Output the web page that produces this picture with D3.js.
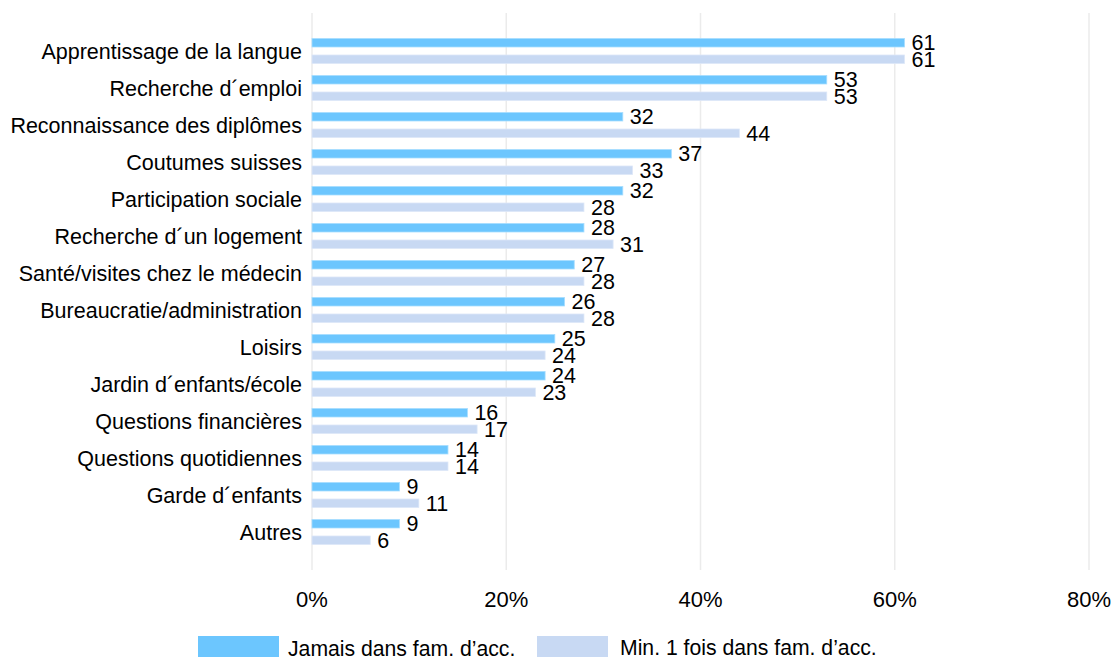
<!DOCTYPE html>
<html>
<head>
<meta charset="utf-8">
<script src="https://cdn.jsdelivr.net/npm/d3@7"></script>
<style>
  html, body { margin: 0; padding: 0; background: #fff; }
  svg { display: block; font-family: "Liberation Sans", Arial, sans-serif; }
</style>
</head>
<body>
<svg id="chart" width="1117" height="657"></svg>
<script>
// Categories, top to bottom
const categories = [
  "Apprentissage de la langue",
  "Recherche d\u00B4emploi",
  "Reconnaissance des diplômes",
  "Coutumes suisses",
  "Participation sociale",
  "Recherche d\u00B4un logement",
  "Santé/visites chez le médecin",
  "Bureaucratie/administration",
  "Loisirs",
  "Jardin d\u00B4enfants/école",
  "Questions financières",
  "Questions quotidiennes",
  "Garde d\u00B4enfants",
  "Autres"
];

// Share (%) by group
const jamais = [61, 53, 32, 37, 32, 28, 27, 26, 25, 24, 16, 14, 9, 9];
const minUneFois = [61, 53, 44, 33, 28, 31, 28, 28, 24, 23, 17, 14, 11, 6];

const seriesNames = ["Jamais dans fam. d’acc.", "Min. 1 fois dans fam. d’acc."];
const seriesColors = ["#6CC6FE", "#C8D9F3"];
const seriesStroke = ["#A6DDFF", "#DCE7F8"];

const xTicks = [0, 20, 40, 60, 80];

const svg = d3.select("#chart");

const x = d3.scaleLinear().domain([0, 80]).range([312, 1089]);

const y = d3.scaleBand()
  .domain(categories)
  .range([38.5, 38.5 + categories.length * 37])
  .paddingInner(0)
  .paddingOuter(0);

const ySub = d3.scaleBand()
  .domain([0, 1])
  .range([0, 25])
  .paddingInner(0.485)
  .paddingOuter(0);

// Vertical gridlines
svg.append("g")
  .selectAll("line")
  .data(xTicks)
  .join("line")
  .attr("x1", d => x(d))
  .attr("x2", d => x(d))
  .attr("y1", 13)
  .attr("y2", 570)
  .attr("stroke", "#EBEBEB")
  .attr("stroke-width", 1.5);

// Tick labels
svg.append("g")
  .selectAll("text")
  .data(xTicks)
  .join("text")
  .attr("x", d => x(d))
  .attr("y", 607)
  .attr("text-anchor", "middle")
  .attr("font-size", 22)
  .attr("fill", "#000")
  .text(d => d + "%");

// Category labels
svg.append("g")
  .selectAll("text")
  .data(categories)
  .join("text")
  .attr("x", 302)
  .attr("y", d => y(d) + 12.5)
  .attr("dy", "0.36em")
  .attr("text-anchor", "end")
  .attr("font-size", 21.5)
  .attr("fill", "#000")
  .text(d => d);

// Bars and value labels
const allSeries = [jamais, minUneFois];
allSeries.forEach((vals, si) => {
  const g = svg.append("g");
  g.selectAll("rect")
    .data(vals)
    .join("rect")
    .attr("x", x(0))
    .attr("y", (d, i) => y(categories[i]) + ySub(si))
    .attr("width", d => x(d) - x(0))
    .attr("height", ySub.bandwidth())
    .attr("fill", seriesColors[si])
    .attr("stroke", seriesStroke[si])
    .attr("stroke-width", 0.8);
  g.selectAll("text")
    .data(vals)
    .join("text")
    .attr("x", d => x(d) + 7)
    .attr("y", (d, i) => y(categories[i]) + ySub(si) + ySub.bandwidth() / 2)
    .attr("dy", "0.36em")
    .attr("font-size", 21.5)
    .attr("fill", "#000")
    .text(d => d);
});

// Legend
const legendItems = [
  { rx: 198, rw: 81, tx: 288, ty: 656 },
  { rx: 537, rw: 71, tx: 620, ty: 655 }
];
const lg = svg.append("g");
legendItems.forEach((it, i) => {
  lg.append("rect")
    .attr("x", it.rx)
    .attr("y", 636)
    .attr("width", it.rw)
    .attr("height", 24)
    .attr("fill", seriesColors[i]);
  lg.append("text")
    .attr("x", it.tx)
    .attr("y", it.ty)
    .attr("font-size", 21.2)
    .attr("fill", "#000")
    .text(seriesNames[i]);
});
</script>
</body>
</html>
